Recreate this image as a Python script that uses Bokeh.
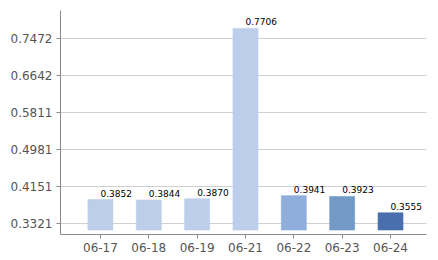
from bokeh.plotting import figure
from bokeh.models import Range1d, FixedTicker, ColumnDataSource
from bokeh.core.properties import value
from bokeh.embed import file_html
from bokeh.resources import INLINE

categories = ["06-17", "06-18", "06-19", "06-21", "06-22", "06-23", "06-24"]
values = [0.3852, 0.3844, 0.3870, 0.7706, 0.3941, 0.3923, 0.3555]
bar_colors = ["#BCCEE9", "#BCCEE9", "#BCCEE9", "#BCCEE9", "#8FAEDB", "#7399C6", "#4A6FAE"]
y_ticks = [0.3321, 0.4151, 0.4981, 0.5811, 0.6642, 0.7472]
y_tick_labels = ["0.3321", "0.4151", "0.4981", "0.5811", "0.6642", "0.7472"]

xs = list(range(len(categories)))
src = ColumnDataSource(dict(x=xs, top=values, color=bar_colors,
                            label=["%.4f" % v for v in values]))

p = figure(width=438, height=260, output_backend="svg", toolbar_location=None,
           x_range=Range1d(-0.826, 6.744), y_range=Range1d(0.3067, 0.8109),
           min_border_left=60, min_border_right=12, min_border_top=10, min_border_bottom=26)
p.outline_line_color = None
p.background_fill_color = "white"
p.border_fill_color = "white"

p.vbar(x="x", top="top", bottom=0.3168, width=0.517, fill_color="color",
       line_color="color", line_alpha=0.6, source=src)
p.text(x="x", y="top", text="label", source=src, text_align="left", text_baseline="bottom",
       y_offset=-3, text_font=value("DejaVu Sans"), text_font_size="9px", text_color="black")

p.xaxis.ticker = FixedTicker(ticks=xs)
p.xaxis.major_label_overrides = {i: c for i, c in zip(xs, categories)}
p.yaxis.ticker = FixedTicker(ticks=y_ticks)
p.yaxis.major_label_overrides = {t: l for t, l in zip(y_ticks, y_tick_labels)}

for ax in (p.xaxis[0], p.yaxis[0]):
    ax.axis_line_color = "#8a8a8a"
    ax.major_tick_line_color = "#8a8a8a"
    ax.major_tick_out = 4
    ax.major_tick_in = 0
    ax.minor_tick_line_color = None
    ax.major_label_text_font = "DejaVu Sans"
    ax.major_label_text_font_size = "12px"
    ax.major_label_text_color = "#555555"
    ax.major_label_standoff = 4

p.xgrid.grid_line_color = None
p.ygrid.grid_line_color = "#d0d0d0"
p.ygrid.ticker = FixedTicker(ticks=y_ticks)

open("out.html", "w").write(file_html(p, INLINE))
